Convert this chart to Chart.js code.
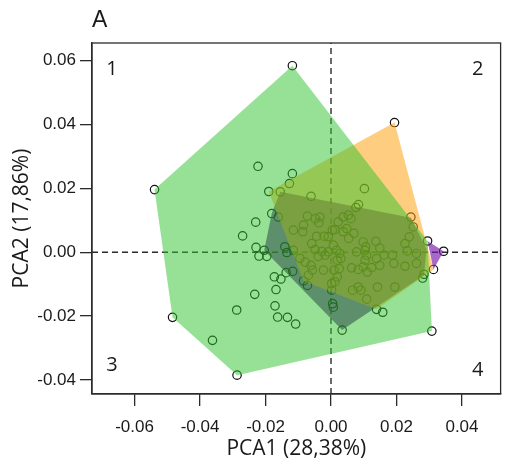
<!DOCTYPE html>
<html>
<head>
<meta charset="utf-8">
<script src="https://cdn.jsdelivr.net/npm/chart.js@4.4.1/dist/chart.umd.min.js"></script>
<style>
  html, body { margin: 0; padding: 0; background: #fff; }
</style>
</head>
<body>
<canvas id="pcaChart" width="506" height="474"></canvas>
<script>
// axis ranges and ticks
const xRange = [-0.073, 0.0518];
const yRange = [-0.0444, 0.0655];
const tickStep = 0.02;
const xTitle = 'PCA1 (28,38%)';
const yTitle = 'PCA2 (17,86%)';
const panelLabel = 'A';
const quadrantLabels = ['1', '2', '3', '4'];

// sample scores
const pointsX = [
  -0.0118, 0.0194, -0.0539, -0.0484, -0.0287, 0.0308, 0.0295, 0.0344, 0.0313,
  -0.0223, -0.0118, -0.0127, -0.0190, -0.0155, -0.0061, 0.0102, -0.0181, -0.0161,
  -0.0230, -0.0270, -0.0229, -0.0204, -0.0220, -0.0196, -0.0141, -0.0135, -0.0173,
  -0.0153, -0.0137, -0.0117, -0.0168, -0.0233, -0.0084, -0.0072, -0.0171, -0.0288,
  -0.0163, -0.0133, -0.0108, -0.0362, 0.0005, 0.0007, 0.0034, 0.0139, 0.0158,
  0.0244, 0.0251, 0.0239, 0.0226, 0.0284, 0.0280,
  -0.0115, -0.0084, -0.0086, -0.0072, -0.0048, -0.0034, -0.0037, -0.0059, -0.0044,
  -0.0021, -0.0008, -0.0049, -0.0028, -0.0039, -0.0018, -0.0008, 0.0007, 0.0017,
  0.0027, 0.0019, 0.0030, 0.0012, 0.0022, 0.0037, 0.0053, 0.0061, 0.0048,
  0.0054, 0.0070, 0.0076, 0.0084, -0.0115, -0.0061, -0.0057, -0.0069, -0.0023,
  0.0009, 0.0025, 0.0019, 0.0002, 0.0012, 0.0002, 0.0066, 0.0083, 0.0091,
  0.0109, 0.0063, 0.0083, 0.0098, 0.0111, 0.0124, 0.0078, 0.0098, 0.0104,
  0.0109, 0.0104, 0.0106, 0.0137, 0.0149, 0.0139, 0.0149, 0.0142, 0.0188,
  0.0192, 0.0226, 0.0195, 0.0233, 0.0261, 0.0261, 0.0037, 0.0004, 0.0162,
  -0.0095, -0.0079
];
const pointsY = [
  0.0584, 0.0406, 0.0196, -0.0204, -0.0385, -0.0247, 0.0035, 0.0003, -0.0054,
  0.0269, 0.0246, 0.0215, 0.0190, 0.0189, 0.0175, 0.0199, 0.0121, 0.0110,
  0.0094, 0.0051, 0.0015, 0.0006, -0.0012, -0.0013, 0.0017, -0.0001, -0.0077,
  -0.0084, -0.0064, -0.0060, -0.0117, -0.0132, -0.0090, -0.0104, -0.0168, -0.0181,
  -0.0203, -0.0204, -0.0225, -0.0276, -0.0161, -0.0172, -0.0244, -0.0179, -0.0188,
  0.0110, 0.0079, 0.0048, 0.0027, -0.0069, -0.0081,
  0.0069, 0.0085, 0.0064, 0.0113, 0.0105, 0.0110, 0.0092, 0.0027, 0.0050,
  0.0050, 0.0048, 0.0008, 0.0003, -0.0013, -0.0009, 0.0001, 0.0022, 0.0006,
  -0.0004, -0.0025, -0.0020, 0.0071, 0.0095, 0.0110, 0.0116, 0.0105, 0.0074,
  0.0043, 0.0059, 0.0140, 0.0149, 0.0006, -0.0041, -0.0056, -0.0072, -0.0056,
  -0.0056, -0.0051, -0.0077, -0.0098, -0.0093, -0.0119, -0.0119, -0.0109, -0.0119,
  -0.0147, -0.0049, -0.0054, -0.0046, -0.0062, -0.0048, 0.0001, 0.0032, 0.0006,
  -0.0009, -0.0025, 0.0017, 0.0034, 0.0013, -0.0020, -0.0041, -0.0109, -0.0009,
  -0.0035, -0.0044, -0.0109, 0.0004, -0.0004, -0.0035, 0.0064, 0.0069, -0.0009,
  -0.0019, -0.0031
];

// convex hulls of the groups
const orangeHullX = [0.0194, 0.0313, 0.0139, -0.0084, -0.0190];
const orangeHullY = [0.0406, -0.0054, -0.0179, -0.0090, 0.0190];
const greenHullX = [-0.0118, 0.0295, 0.0308, -0.0287, -0.0484, -0.0539];
const greenHullY = [0.0584, 0.0035, -0.0247, -0.0385, -0.0204, 0.0196];
const slateHullX = [-0.0155, 0.0244, 0.0292, 0.0284, 0.0034, -0.0204, -0.0181];
const slateHullY = [0.0189, 0.0108, 0.0010, -0.0072, -0.0244, 0.0006, 0.0121];
const purpleHullX = [0.0295, 0.0344, 0.0313];
const purpleHullY = [0.0035, 0.0003, -0.0054];

function hull(xs, ys) {
  const pts = xs.map((x, i) => ({ x: x, y: ys[i] }));
  pts.push(pts[0]);
  return pts;
}

function hullSet(xs, ys, color, order) {
  return {
    data: hull(xs, ys),
    showLine: true,
    fill: 'shape',
    backgroundColor: color,
    borderColor: 'transparent',
    borderWidth: 0,
    pointRadius: 0,
    tension: 0,
    order: order
  };
}

const dashStyle = {
  showLine: true,
  borderColor: '#2b2b2b',
  borderWidth: 1.4,
  borderDash: [6, 4],
  pointRadius: 0,
  fill: false,
  order: 7
};

const frame = {
  id: 'frame',
  afterDraw(chart) {
    const { ctx, chartArea: a } = chart;
    ctx.save();
    ctx.strokeStyle = '#2b2b2b';
    ctx.lineWidth = 1.3;
    ctx.strokeRect(a.left, a.top, a.right - a.left, a.bottom - a.top);
    ctx.fillStyle = '#1a1a1a';
    ctx.font = '23px "Liberation Sans"';
    ctx.textAlign = 'left';
    ctx.textBaseline = 'alphabetic';
    ctx.fillText(panelLabel, a.left, a.top - 16);
    ctx.font = '20px "Open Sans"';
    ctx.textAlign = 'center';
    ctx.textBaseline = 'middle';
    ctx.fillText(quadrantLabels[0], a.left + 20, a.top + 26);
    ctx.fillText(quadrantLabels[1], a.right - 23, a.top + 26);
    ctx.fillText(quadrantLabels[2], a.left + 20, a.bottom - 29);
    ctx.fillText(quadrantLabels[3], a.right - 23, a.bottom - 24);
    ctx.restore();
  }
};

new Chart(document.getElementById('pcaChart'), {
  type: 'scatter',
  data: {
    datasets: [
      Object.assign({ data: [{ x: xRange[0], y: 0 }, { x: xRange[1], y: 0 }] }, dashStyle),
      Object.assign({ data: [{ x: 0, y: yRange[0] }, { x: 0, y: yRange[1] }] }, dashStyle),
      {
        data: pointsX.map((x, i) => ({ x: x, y: pointsY[i] })),
        pointRadius: 4.2,
        pointBorderWidth: 1.2,
        pointBorderColor: '#111',
        pointBackgroundColor: 'transparent',
        order: 6
      },
      hullSet(slateHullX, slateHullY, 'rgba(112,45,150,0.78)', 8),
      hullSet(orangeHullX, orangeHullY, 'rgba(253,160,10,0.52)', 4),
      hullSet(greenHullX, greenHullY, 'rgba(46,196,46,0.5)', 3),
      hullSet(purpleHullX, purpleHullY, 'rgba(120,25,170,0.65)', 1)
    ]
  },
  options: {
    responsive: false,
    animation: false,
    layout: { padding: { top: 43, right: 5, left: 0, bottom: 0 } },
    plugins: { legend: { display: false }, tooltip: { enabled: false } },
    scales: {
      x: {
        type: 'linear',
        min: xRange[0],
        max: xRange[1],
        afterFit(scale) { scale.height = 80; },
        grid: { drawOnChartArea: false, tickLength: 12, color: '#2b2b2b', lineWidth: 1.3 },
        border: { color: '#2b2b2b', width: 1.3 },
        ticks: {
          stepSize: tickStep,
          includeBounds: false,
          padding: 11,
          color: '#1a1a1a',
          font: { family: '"Liberation Sans"', size: 17 },
          callback: v => v.toFixed(2)
        },
        title: {
          display: true,
          text: xTitle,
          color: '#1a1a1a',
          font: { family: '"Open Sans"', size: 21 },
          padding: { top: 0, bottom: 12 }
        }
      },
      y: {
        type: 'linear',
        min: yRange[0],
        max: yRange[1],
        afterFit(scale) { scale.width = 92; },
        grid: { drawOnChartArea: false, tickLength: 12, color: '#2b2b2b', lineWidth: 1.3 },
        border: { color: '#2b2b2b', width: 1.3 },
        ticks: {
          stepSize: tickStep,
          includeBounds: false,
          padding: 4,
          color: '#1a1a1a',
          font: { family: '"Liberation Sans"', size: 17 },
          callback: v => v.toFixed(2)
        },
        title: {
          display: true,
          text: yTitle,
          color: '#1a1a1a',
          font: { family: '"Open Sans"', size: 21 },
          padding: { top: 9, bottom: 0 }
        }
      }
    }
  },
  plugins: [frame]
});
</script>
</body>
</html>
